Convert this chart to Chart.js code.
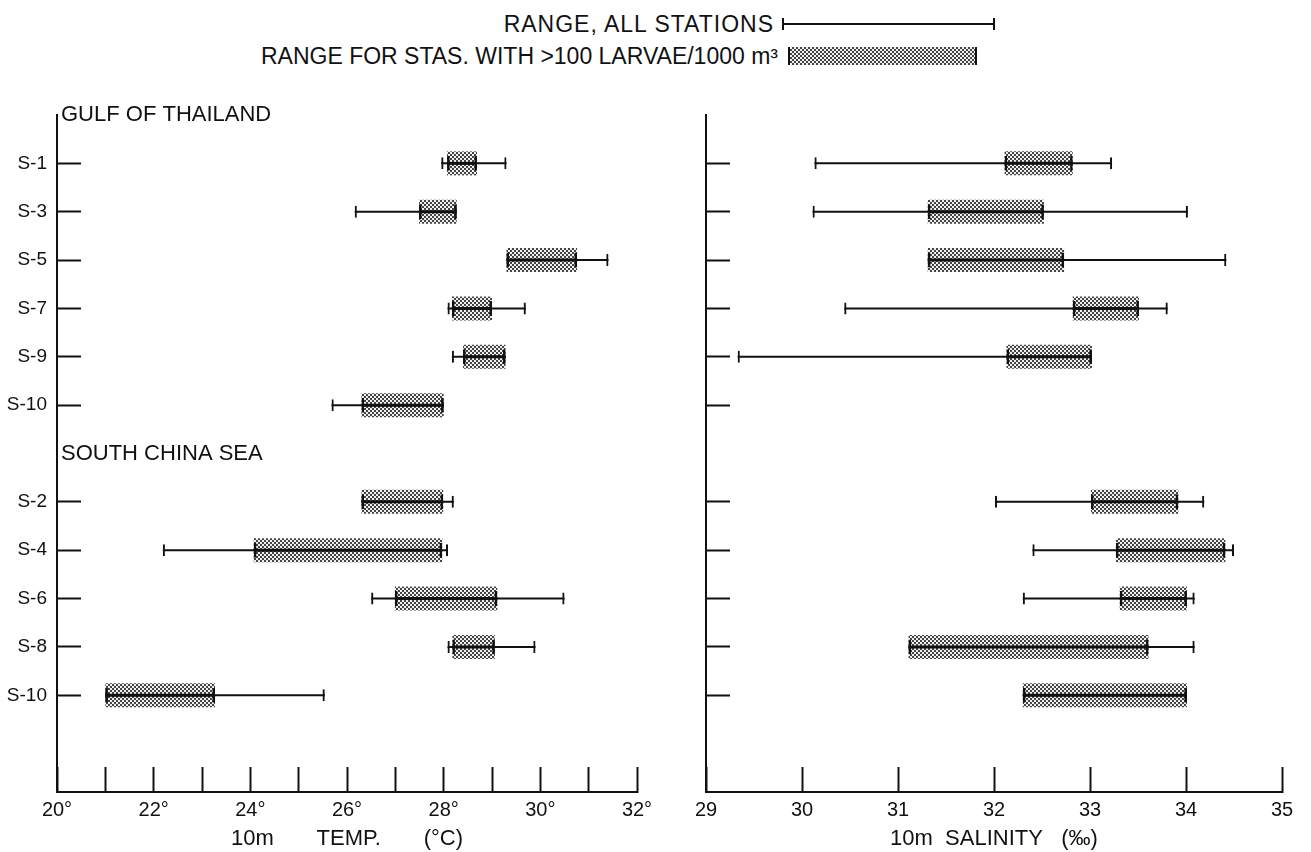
<!DOCTYPE html>
<html lang="en">
<head>
<meta charset="utf-8">
<title>10 m temperature and salinity ranges by station</title>
<script src="https://cdn.jsdelivr.net/npm/chart.js@4.4.1/dist/chart.umd.min.js"></script>
<style>
  html, body { margin: 0; padding: 0; background: #fff; }
  body { position: relative; width: 1311px; height: 852px; overflow: hidden;
         font-family: "Liberation Sans", Arial, sans-serif; color: #111; }
  canvas { position: absolute; top: 0; }
  #tempChart { left: 0; }
  #salChart { left: 680px; }
  .keyText { position: absolute; font-size: 23px; line-height: 26px; white-space: nowrap; }
  .keyWhisker { position: absolute; left: 782px; top: 18px; width: 213px; height: 12px; box-sizing: border-box;
                border-left: 2px solid #111; border-right: 2px solid #111; }
  .keyWhisker::after { content: ''; position: absolute; left: 0; right: 0; top: 5px; height: 2px; background: #111; }
  .keyBox { position: absolute; left: 788px; top: 47px; width: 189px; height: 18px; box-sizing: border-box;
            border-left: 2px solid #111; border-right: 2px solid #111;
            background: repeating-conic-gradient(#444 0 25%, #f0f0f0 0 50%) 0 0 / 4px 4px; }
</style>
</head>
<body>
<div class="keyText" style="top:11px; right:537px; letter-spacing:1px">RANGE, ALL STATIONS</div>
<div class="keyWhisker"></div>
<div class="keyText" style="top:43px; right:533px">RANGE FOR STAS. WITH &gt;100 LARVAE/1000 m³</div>
<div class="keyBox"></div>
<canvas id="tempChart" width="680" height="852"></canvas>
<canvas id="salChart" width="631" height="852"></canvas>
<script>
// stations, top to bottom
const gulfStations = ['S-1', 'S-3', 'S-5', 'S-7', 'S-9', 'S-10'];
const southStations = ['S-2', 'S-4', 'S-6', 'S-8', 'S-10'];

// 10m temp (deg C) - range over all stations, and for stas. with >100 larvae/1000 m3
const tempAllLow   = [27.95, 26.16, 29.30, 28.08, 28.17, 25.68, 26.30, 22.19, 26.50, 28.08, 21.00];
const tempAllHigh  = [29.30, 28.27, 31.41, 29.70, 29.28, 28.00, 28.21, 28.09, 30.50, 29.90, 25.54];
const tempRichLow  = [28.07, 27.49, 29.30, 28.17, 28.40, 26.30, 26.30, 24.07, 26.99, 28.18, 21.00];
const tempRichHigh = [28.69, 28.27, 30.76, 29.00, 29.28, 28.00, 27.99, 27.97, 29.11, 29.06, 23.27];

// 10m salinity (per mille) - nothing for gulf S-10
const salAllLow   = [30.13, 30.11, 31.31, 30.44, 29.33, null, 32.01, 32.40, 32.30, 31.11, 32.30];
const salAllHigh  = [33.23, 34.02, 34.42, 33.81, 33.02, null, 34.19, 34.50, 34.09, 34.09, 34.01];
const salRichLow  = [32.11, 31.31, 31.31, 32.82, 32.13, null, 33.01, 33.27, 33.31, 31.11, 32.30];
const salRichHigh = [32.82, 32.52, 32.73, 33.51, 33.02, null, 33.92, 34.41, 34.01, 33.61, 34.01];

const tempAxis = [20, 32];
const salAxis = [29, 35];

const ink = '#111';
const fontFamily = '"Liberation Sans", Arial, sans-serif';

// one blank row above each sea area, two at the bottom
const rowLabels = [''].concat(gulfStations, [''], southStations, ['', '']);
const stationRow = gulfStations.map((s, i) => i + 1)
    .concat(southStations.map((s, i) => i + gulfStations.length + 2));

function onRows(low, high) {
    const out = rowLabels.map(() => null);
    low.forEach((v, i) => {
        if (v != null) out[stationRow[i]] = [v, high[i]];
    });
    return out;
}

function makeStipple(ctx) {
    const tile = document.createElement('canvas');
    tile.width = 4;
    tile.height = 4;
    const t = tile.getContext('2d');
    t.fillStyle = '#f0f0f0';
    t.fillRect(0, 0, 4, 4);
    t.fillStyle = '#444';
    t.fillRect(0, 0, 2, 2);
    t.fillRect(2, 2, 2, 2);
    return ctx.createPattern(tile, 'repeat');
}

function rangeSets(allLow, allHigh, richLow, richHigh, stipple) {
    const all = onRows(allLow, allHigh);
    const rich = onRows(richLow, richHigh);
    const common = { type: 'bar', grouped: false, borderSkipped: false, inflateAmount: 0 };
    return [
        { ...common, label: 'rich ends', data: rich, barThickness: 15, backgroundColor: 'rgba(0,0,0,0)',
          borderColor: ink, borderWidth: { left: 2.5, right: 2.5, top: 0, bottom: 0 }, order: 1 },
        { ...common, label: 'rich line', data: rich, barThickness: 3, backgroundColor: ink, borderWidth: 0, order: 2 },
        { ...common, label: 'all ends', data: all, barThickness: 12, backgroundColor: 'rgba(0,0,0,0)',
          borderColor: ink, borderWidth: { left: 2, right: 2, top: 0, bottom: 0 }, order: 3 },
        { ...common, label: 'all line', data: all, barThickness: 2, backgroundColor: ink, borderWidth: 0, order: 4 },
        { ...common, label: 'rich box', data: rich, barThickness: 24, backgroundColor: stipple, borderWidth: 0, order: 5 }
    ];
}

function xScale(range, labelFn, title, height) {
    return {
        type: 'linear',
        min: range[0],
        max: range[1],
        afterFit: (s) => {
            s.height = height;
            // ticks point inward, so don't let the label padding eat into the plot width
            s.paddingLeft = 0;
            s.paddingRight = 0;
        },
        ticks: { stepSize: 1, autoSkip: false, maxRotation: 0, padding: 31, color: ink,
                 font: { family: fontFamily, size: 20 }, callback: labelFn },
        grid: { drawOnChartArea: false, drawTicks: true, tickLength: -25, tickWidth: 2, tickColor: ink },
        border: { display: true, color: ink, width: 2 },
        title: { display: true, text: title, color: ink, padding: { top: 0, bottom: 0 },
                 font: { family: fontFamily, size: 22 } }
    };
}

function yScale(width, showLabels) {
    return {
        type: 'category',
        offset: false,
        afterFit: (s) => { s.width = width; },
        ticks: { display: showLabels, autoSkip: false, padding: 34, color: ink,
                 font: { family: fontFamily, size: 19 } },
        grid: { offset: false, drawOnChartArea: false, drawTicks: true, tickLength: -24, tickWidth: 2,
                tickColor: (c) => (c.tick && c.tick.label ? ink : 'rgba(0,0,0,0)') },
        border: { display: true, color: ink, width: 2 }
    };
}

// area names written just inside the axis
const regionLabels = {
    id: 'regionLabels',
    afterDraw(chart) {
        const ctx = chart.ctx;
        const y = chart.scales.y;
        ctx.save();
        ctx.font = '22px ' + fontFamily;
        ctx.fillStyle = ink;
        ctx.textBaseline = 'middle';
        ctx.fillText('GULF OF THAILAND', chart.chartArea.left + 4, y.getPixelForValue(0));
        ctx.fillText('SOUTH CHINA SEA', chart.chartArea.left + 4, y.getPixelForValue(gulfStations.length + 1));
        ctx.restore();
    }
};

const tempCtx = document.getElementById('tempChart').getContext('2d');
const salCtx = document.getElementById('salChart').getContext('2d');

const tempChart = new Chart(tempCtx, {
    type: 'bar',
    data: {
        labels: rowLabels,
        datasets: rangeSets(tempAllLow, tempAllHigh, tempRichLow, tempRichHigh, makeStipple(tempCtx))
    },
    options: {
        indexAxis: 'y',
        responsive: false,
        animation: false,
        events: [],
        layout: { padding: { top: 115, right: 43, bottom: 0, left: 0 } },
        plugins: { legend: { display: false }, tooltip: { enabled: false } },
        scales: {
            x: xScale(tempAxis, (v) => (v % 2 === 0 ? v + '°' : ''), '10m       TEMP.       (°C)', 60),
            y: yScale(57, true)
        }
    },
    plugins: [regionLabels]
});

const salChart = new Chart(salCtx, {
    type: 'bar',
    data: {
        labels: rowLabels,
        datasets: rangeSets(salAllLow, salAllHigh, salRichLow, salRichHigh, makeStipple(salCtx))
    },
    options: {
        indexAxis: 'y',
        responsive: false,
        animation: false,
        events: [],
        layout: { padding: { top: 115, right: 29, bottom: 0, left: 0 } },
        plugins: { legend: { display: false }, tooltip: { enabled: false } },
        scales: {
            x: xScale(salAxis, (v) => String(v), '10m  SALINITY   (‰)', 60),
            y: yScale(26, false)
        }
    }
});
</script>
</body>
</html>
